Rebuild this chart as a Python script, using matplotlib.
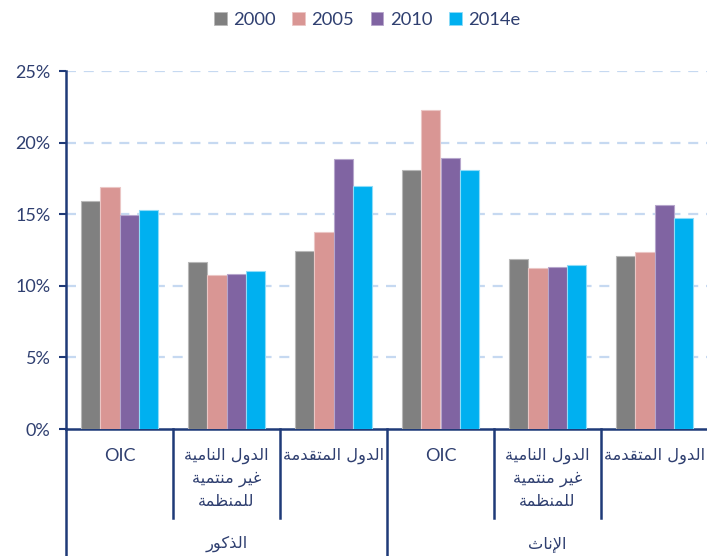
import matplotlib
matplotlib.use("Agg")
import matplotlib.pyplot as plt
import matplotlib.transforms as mtransforms
from matplotlib.patches import Patch
import numpy as np

# ---------------- data ----------------
series_labels = ["2000", "2005", "2010", "2014e"]
categories = [
    "OIC",
    "الدول النامية\nغير منتمية\nللمنظمة",
    "الدول المتقدمة",
    "OIC",
    "الدول النامية\nغير منتمية\nللمنظمة",
    "الدول المتقدمة",
]
groups = ["الذكور", "الإناث"]
v2000 = [15.95, 11.67, 12.40, 18.10, 11.88, 12.10]
v2005 = [16.87, 10.75, 13.77, 22.26, 11.24, 12.37]
v2010 = [14.95, 10.84, 18.86, 18.89, 11.33, 15.61]
v2014 = [15.28, 11.03, 16.98, 18.12, 11.47, 14.72]
yticks = [0, 5, 10, 15, 20, 25]

colors = ["#808080", "#D99694", "#8064A2", "#00B0F0"]
edges = ["#B8B8B8", "#EBC6C5", "#B6A6CC", "#8EDCF8"]
NAVY = "#1F3A78"
TXT = "#2F3F70"

# ------------- Arabic shaping (presentation forms, RTL) -------------
FORMS = {
    "\u0627": ("\uFE8D", "\uFE8E", None, None),
    "\u0625": ("\uFE87", "\uFE88", None, None),
    "\u0629": ("\uFE93", "\uFE94", None, None),
    "\u062A": ("\uFE95", "\uFE96", "\uFE97", "\uFE98"),
    "\u062B": ("\uFE99", "\uFE9A", "\uFE9B", "\uFE9C"),
    "\u062F": ("\uFEA9", "\uFEAA", None, None),
    "\u0630": ("\uFEAB", "\uFEAC", None, None),
    "\u0631": ("\uFEAD", "\uFEAE", None, None),
    "\u0638": ("\uFEC5", "\uFEC6", "\uFEC7", "\uFEC8"),
    "\u063A": ("\uFECD", "\uFECE", "\uFECF", "\uFED0"),
    "\u0642": ("\uFED5", "\uFED6", "\uFED7", "\uFED8"),
    "\u0643": ("\uFED9", "\uFEDA", "\uFEDB", "\uFEDC"),
    "\u0644": ("\uFEDD", "\uFEDE", "\uFEDF", "\uFEE0"),
    "\u0645": ("\uFEE1", "\uFEE2", "\uFEE3", "\uFEE4"),
    "\u0646": ("\uFEE5", "\uFEE6", "\uFEE7", "\uFEE8"),
    "\u0648": ("\uFEED", "\uFEEE", None, None),
    "\u064A": ("\uFEF1", "\uFEF2", "\uFEF3", "\uFEF4"),
}
LAM_ALEF = {"\u0627": ("\uFEFB", "\uFEFC"), "\u0625": ("\uFEF9", "\uFEFA"),
            "\u0623": ("\uFEF7", "\uFEF8")}


def _dual(c):
    return c in FORMS and FORMS[c][2] is not None


def shape(s):
    if not any(c in FORMS for c in s):
        return s
    ch = list(s)
    n = len(ch)
    out = []
    i = 0
    while i < n:
        c = ch[i]
        if c not in FORMS:
            out.append(c)
            i += 1
            continue
        prev = ch[i - 1] if i > 0 else None
        jp = prev is not None and _dual(prev)
        if c == "\u0644" and i + 1 < n and ch[i + 1] in LAM_ALEF:
            out.append(LAM_ALEF[ch[i + 1]][1 if jp else 0])
            i += 2
            continue
        nxt = ch[i + 1] if i + 1 < n else None
        jn = _dual(c) and nxt in FORMS
        f = FORMS[c]
        if jp and jn:
            g = f[3]
        elif jp:
            g = f[1]
        elif jn:
            g = f[2]
        else:
            g = f[0]
        out.append(g)
        i += 1
    return "".join(reversed(out))


# ---------------- figure ----------------
W, H = 707, 556
fig = plt.figure(figsize=(W / 100, H / 100), dpi=100)
ax_left, ax_right, ax_top, ax_bot = 66, 708, 71, 429
ax = fig.add_axes([ax_left / W, 1 - ax_bot / H, (ax_right - ax_left) / W, (ax_bot - ax_top) / H])

LAT = ["Lato", "DejaVu Sans"]
ARB = ["DejaVu Sans"]
ARB_SIZE = 11.7

x = np.arange(len(categories))
bw = 0.182
allv = [v2000, v2005, v2010, v2014]
for k, vals in enumerate(allv):
    ax.bar(x + (k - 1.5) * bw, vals, width=bw, color=colors[k], edgecolor=edges[k],
           linewidth=0.8, zorder=3, label=series_labels[k])

ax.set_xlim(-0.5, len(categories) - 0.5)
ax.set_ylim(0, 25)
ax.set_yticks(yticks)
ax.set_yticklabels([f"{t}%" for t in yticks], fontfamily=LAT, fontsize=13, color=TXT)
ax.set_xticks([])
ax.tick_params(axis="y", direction="out", length=5, width=1.5, color=NAVY, pad=6)
for t in yticks[1:]:
    ax.axhline(t, color="#C6D9F1", lw=1.6, ls=(0, (4.5, 3.5)), zorder=1)
for s in ["top", "right"]:
    ax.spines[s].set_visible(False)
for s in ["left", "bottom"]:
    ax.spines[s].set_color(NAVY)
    ax.spines[s].set_linewidth(1.8)

# lower category structure
tr = mtransforms.blended_transform_factory(ax.transData, fig.transFigure)
def fy(px):
    return 1 - px / H

for b in [0.5, 1.5, 3.5, 4.5]:
    ax.add_line(plt.Line2D([b, b], [fy(429), fy(518)], transform=tr, color=NAVY,
                           lw=1.8, clip_on=False))
for b in [-0.5, 2.5]:
    ax.add_line(plt.Line2D([b, b], [fy(429), fy(560)], transform=tr, color=NAVY,
                           lw=1.8, clip_on=False))

line_y = [456, 479, 502]
for i, lab in enumerate(categories):
    lines = lab.split("\n")
    for j, ln in enumerate(lines):
        arabic = any(c in FORMS for c in ln)
        ax.text(i, fy(line_y[j]), shape(ln), transform=tr, ha="center", va="center",
                fontfamily=ARB if arabic else LAT, fontsize=ARB_SIZE if arabic else 13,
                color=TXT, clip_on=False)

for g, lab in enumerate(groups):
    ax.text(g * 3 + 1, fy(544), shape(lab), transform=tr, ha="center", va="center",
            fontfamily=ARB, fontsize=ARB_SIZE, color=TXT, clip_on=False)

# legend
handles = [Patch(facecolor=colors[k], edgecolor=edges[k], linewidth=0.6) for k in range(4)]
leg = fig.legend(handles, series_labels, loc="center", bbox_to_anchor=(367 / W, 1 - 20 / H),
                 ncol=4, frameon=False, handlelength=0.7, handleheight=0.7,
                 handletextpad=0.35, columnspacing=0.9,
                 prop={"family": LAT, "size": 13.2})
for t in leg.get_texts():
    t.set_color(TXT)

fig.savefig("out.png", dpi=100)
